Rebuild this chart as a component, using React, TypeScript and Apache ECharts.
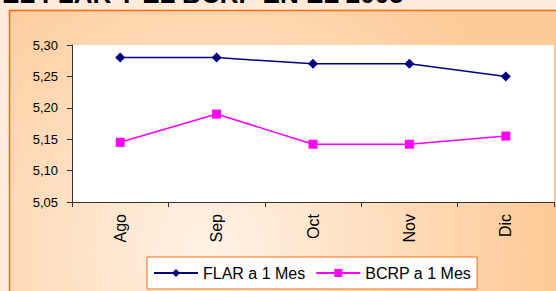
import React, { useEffect, useRef } from "react";
import * as echarts from "echarts";

const categories = ["Ago", "Sep", "Oct", "Nov", "Dic"];
const flar = [5.28, 5.28, 5.27, 5.27, 5.25];
const bcrp = [5.145, 5.19, 5.142, 5.142, 5.155];
const seriesNames = ["FLAR a 1 Mes", "BCRP a 1 Mes"];
const titleText = "EL FLAR Y EL BCRP EN EL 2005";

const FONT = 'Arial, "Liberation Sans", sans-serif';

export default function App() {
  const ref = useRef<HTMLDivElement>(null);
  useEffect(() => {
    document.body.style.margin = "0";
    const chart = echarts.init(ref.current!, undefined, { renderer: "svg" });
    chart.setOption({
      animation: false,
      backgroundColor: "#FEEBD9",
      graphic: [
        {
          type: "rect",
          z: -10,
          shape: { x: 9.5, y: 10.5, width: 560, height: 300 },
          style: {
            fill: new echarts.graphic.RadialGradient(210, 250, 340, [
              { offset: 0, color: "#FFF2E6" },
              { offset: 1, color: "#FDCA97" },
            ], true),
            stroke: "#FF6A10",
            lineWidth: 1.5,
          },
        },
        {
          type: "text",
          x: 2,
          y: -6.3,
          style: {
            text: titleText,
            font: `bold 26px ${FONT}`,
            fill: "#000",
            verticalAlign: "middle",
            align: "left",
          },
        },
      ],
      grid: {
        left: 72,
        top: 45,
        right: 2,
        bottom: 89,
        show: true,
        backgroundColor: "#FFFFFF",
        borderWidth: 0,
      },
      legend: {
        left: 147,
        top: 257,
        padding: [8, 6, 8, 6],
        itemWidth: 44,
        itemHeight: 10,
        itemGap: 10,
        backgroundColor: "#FFFFFF",
        borderColor: "#FF6A10",
        borderWidth: 1,
        textStyle: { fontSize: 16, color: "#000", fontFamily: FONT },
        data: seriesNames,
      },
      xAxis: {
        type: "category",
        data: categories,
        boundaryGap: true,
        axisLine: { lineStyle: { color: "#333", width: 1 } },
        axisTick: { show: true, length: 5, lineStyle: { color: "#333" } },
        axisLabel: {
          rotate: 90,
          fontSize: 16,
          color: "#000",
          fontFamily: FONT,
          margin: 12,
        },
        splitLine: { show: false },
      },
      yAxis: {
        type: "value",
        min: 5.05,
        max: 5.3,
        interval: 0.05,
        axisLine: { show: true, lineStyle: { color: "#333", width: 1 } },
        axisTick: { show: true, length: 5, lineStyle: { color: "#333" } },
        axisLabel: {
          fontSize: 13,
          color: "#000",
          fontFamily: FONT,
          margin: 14,
          formatter: (v: number) => v.toFixed(2).replace(".", ","),
        },
        splitLine: { show: false },
      },
      series: [
        {
          name: seriesNames[0],
          type: "line",
          data: flar,
          symbol: "diamond",
          symbolSize: 10,
          lineStyle: { color: "#000080", width: 1.5 },
          itemStyle: { color: "#000080" },
        },
        {
          name: seriesNames[1],
          type: "line",
          data: bcrp,
          symbol: "rect",
          symbolSize: 9,
          lineStyle: { color: "#FF00FF", width: 1.5 },
          itemStyle: { color: "#FF00FF" },
        },
      ],
    });
    return () => chart.dispose();
  }, []);
  return (
    <div
      ref={ref}
      style={{ position: "absolute", left: 0, top: 0, width: 556, height: 291 }}
    />
  );
}
